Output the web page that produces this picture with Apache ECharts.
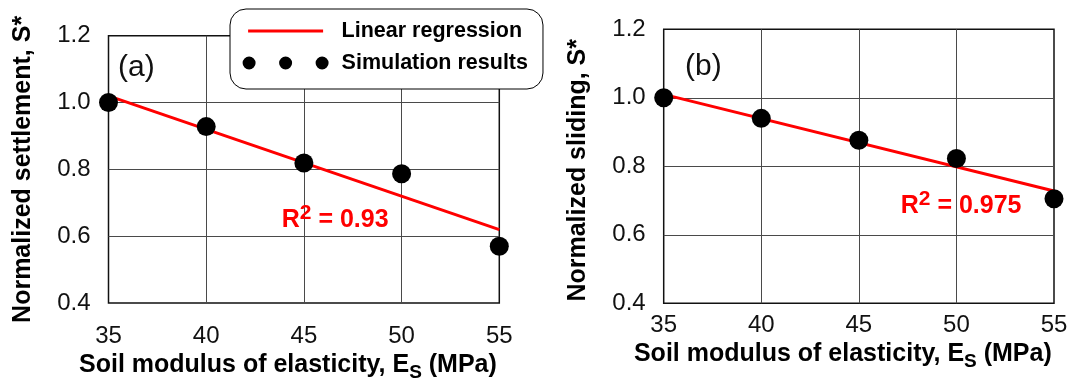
<!DOCTYPE html>
<html>
<head>
<meta charset="utf-8">
<script src="https://cdn.jsdelivr.net/npm/echarts@6/dist/echarts.min.js"></script>
<style>
  html, body { margin: 0; padding: 0; background: #fff; }
  #chart { width: 1071px; height: 387px; }
</style>
</head>
<body>
<div id="chart"></div>
<script>
// Soil modulus of elasticity (MPa) used in the simulations
const modulus = [35, 40, 45, 50, 55];
// Normalized settlement S* (panel a)
const settlement = [1.0, 0.928, 0.819, 0.787, 0.570];
// Normalized sliding S* (panel b)
const sliding = [1.0, 0.940, 0.876, 0.823, 0.705];
// Linear regression lines, end values at Es = 35 and 55 MPa
const fitRange = [35, 55];
const settlementFit = [1.02, 0.62];
const slidingFit = [1.01, 0.728];
// Coefficients of determination
const r2Settlement = '0.93';
const r2Sliding = '0.975';
// Axis ticks
const xTicks = [35, 40, 45, 50, 55];
const yTicks = [0.4, 0.6, 0.8, 1.0, 1.2];

const FONT = '"Liberation Sans", Arial, Helvetica, sans-serif';
const RED = '#ff0000';

const pairs = (xs, ys) => xs.map((x, i) => [x, ys[i]]);

function xAxisFor(gridIndex, labelMargin, nameGap) {
  return {
    type: 'value', gridIndex,
    min: xTicks[0], max: xTicks[xTicks.length - 1],
    interval: xTicks[1] - xTicks[0],
    axisLine: { show: false }, axisTick: { show: false },
    splitLine: { show: true, showMinLine: false, showMaxLine: false,
                 lineStyle: { color: '#4a4a4a', width: 1 } },
    axisLabel: { fontFamily: FONT, fontSize: 24, color: '#111', margin: labelMargin },
    name: '{m|Soil modulus of elasticity, E}{s|S}{m| (MPa)}',
    nameLocation: 'middle', nameGap,
    nameTextStyle: {
      padding: [0, 32, 0, 0],
      rich: {
        m: { fontFamily: FONT, fontSize: 25, fontWeight: 'bold', color: '#000',
             lineHeight: 29, padding: [0, 0, 4, 0], verticalAlign: 'bottom' },
        s: { fontFamily: FONT, fontSize: 19, fontWeight: 'bold', color: '#000',
             lineHeight: 29, verticalAlign: 'bottom' }
      }
    }
  };
}

function yAxisFor(gridIndex, name, nameGap, namePad) {
  return {
    type: 'value', gridIndex,
    min: yTicks[0], max: yTicks[yTicks.length - 1],
    interval: 0.2,
    axisLine: { show: false }, axisTick: { show: false },
    splitLine: { show: true, showMinLine: false, showMaxLine: false,
                 lineStyle: { color: '#4a4a4a', width: 1 } },
    axisLabel: { fontFamily: FONT, fontSize: 24, color: '#111', margin: 18,
                 formatter: v => v.toFixed(1) },
    name, nameLocation: 'middle', nameGap, nameRotate: 90,
    nameTextStyle: { fontFamily: FONT, fontSize: 25, fontWeight: 'bold', color: '#000',
                     padding: namePad }
  };
}

function r2Label(x, y, value) {
  return {
    type: 'text', x, y, z: 10,
    style: {
      text: '{r|R}{s|2}{r| = ' + value + '}',
      verticalAlign: 'bottom', align: 'left',
      rich: {
        r: { fontFamily: FONT, fontSize: 25, fontWeight: 'bold', fill: RED,
             lineHeight: 30, verticalAlign: 'bottom' },
        s: { fontFamily: FONT, fontSize: 21, fontWeight: 'bold', fill: RED,
             lineHeight: 30, padding: [0, 0, 9, 0], verticalAlign: 'bottom' }
      }
    }
  };
}

const lineIcon = 'path://M0,0M86,13M5.5,5H80.5V8H5.5Z';
const dotsIcon = 'path://M0,0M86,13' +
  'M0,6.5a6.5,6.5 0 1,0 13,0a6.5,6.5 0 1,0 -13,0Z' +
  'M36.5,6.5a6.5,6.5 0 1,0 13,0a6.5,6.5 0 1,0 -13,0Z' +
  'M73,6.5a6.5,6.5 0 1,0 13,0a6.5,6.5 0 1,0 -13,0Z';

const chart = echarts.init(document.getElementById('chart'), null, { renderer: 'canvas' });

chart.setOption({
  animation: false,
  backgroundColor: '#fff',
  grid: [
    { left: 108.5, right: 571.7, top: 35.7, bottom: 77.7, show: true,
      borderColor: '#111', borderWidth: 1.5, backgroundColor: 'transparent' },
    { left: 663.7, right: 17, top: 29.3, bottom: 83.7, show: true,
      borderColor: '#111', borderWidth: 1.5, backgroundColor: 'transparent' }
  ],
  xAxis: [xAxisFor(0, 21, 46.4), xAxisFor(1, 9.6, 33.4)],
  yAxis: [
    yAxisFor(0, 'Normalized settlement, S*', 73, [0, 0, 0, 0]),
    yAxisFor(1, 'Normalized sliding, S*', 73, [0, 8, 0, 0])
  ],
  legend: {
    orient: 'vertical', left: 230, top: 9,
    itemWidth: 86, itemHeight: 13, itemGap: 10,
    padding: [11, 15, 15, 12.6],
    backgroundColor: '#fff', borderColor: '#000', borderWidth: 1, borderRadius: 16,
    selectedMode: false,
    textStyle: { fontFamily: FONT, fontSize: 21.5, fontWeight: 'bold', color: '#000',
                 padding: [0, 0, 0, 8] },
    data: [
      { name: 'Linear regression', icon: lineIcon, itemStyle: { color: RED, borderWidth: 0 } },
      { name: 'Simulation results', icon: dotsIcon, itemStyle: { color: '#000', borderWidth: 0 } }
    ]
  },
  series: [
    { name: 'Linear regression', type: 'line', xAxisIndex: 0, yAxisIndex: 0,
      data: pairs(fitRange, settlementFit), showSymbol: false, symbol: 'none',
      lineStyle: { color: RED, width: 3 }, itemStyle: { color: RED }, z: 2, clip: false },
    { name: 'Simulation results', type: 'scatter', xAxisIndex: 0, yAxisIndex: 0,
      data: pairs(modulus, settlement), symbolSize: 19,
      itemStyle: { color: '#000', opacity: 1 }, z: 3, clip: false },
    { name: 'Linear regression', type: 'line', xAxisIndex: 1, yAxisIndex: 1,
      data: pairs(fitRange, slidingFit), showSymbol: false, symbol: 'none',
      lineStyle: { color: RED, width: 3 }, itemStyle: { color: RED }, z: 2, clip: false },
    { name: 'Simulation results', type: 'scatter', xAxisIndex: 1, yAxisIndex: 1,
      data: pairs(modulus, sliding), symbolSize: 19,
      itemStyle: { color: '#000', opacity: 1 }, z: 3, clip: false }
  ],
  graphic: [
    { type: 'text', x: 118, y: 68, z: 10,
      style: { text: '(a)', fontFamily: FONT, fontSize: 30, fill: '#111',
               verticalAlign: 'middle', align: 'left' } },
    { type: 'text', x: 685, y: 67, z: 10,
      style: { text: '(b)', fontFamily: FONT, fontSize: 30, fill: '#111',
               verticalAlign: 'middle', align: 'left' } },
    r2Label(281.7, 233.1, r2Settlement),
    r2Label(900.7, 218.8, r2Sliding)
  ]
});
</script>
</body>
</html>
